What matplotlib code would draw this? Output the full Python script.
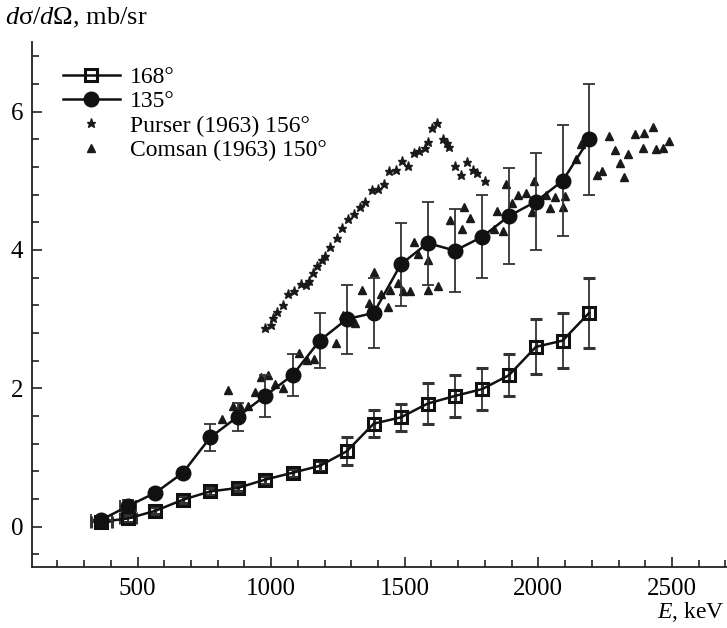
import numpy as np
import matplotlib
matplotlib.use("Agg")
import matplotlib.pyplot as plt
from matplotlib.lines import Line2D
from matplotlib.ticker import MultipleLocator

plt.rcParams['font.family'] = ['Liberation Serif', 'DejaVu Serif']
plt.rcParams['mathtext.fontset'] = 'custom'
plt.rcParams['mathtext.rm'] = 'Liberation Serif'
plt.rcParams['mathtext.it'] = 'Liberation Serif:italic'

# energies of the two measured series, keV
energy = [365, 465, 567, 670, 772, 875, 977, 1080, 1182, 1283, 1384,
          1485, 1586, 1688, 1790, 1890, 1991, 2091, 2190]

# 168 deg (open squares)
sq_val = [0.07, 0.12, 0.23, 0.39, 0.51, 0.56, 0.68, 0.78, 0.88, 1.09, 1.49,
          1.58, 1.78, 1.89, 1.99, 2.19, 2.60, 2.69, 3.09]
sq_err = [0.05, 0.05, 0.05, 0.05, 0.05, 0.05, 0.06, 0.06, 0.07, 0.2, 0.2,
          0.2, 0.3, 0.3, 0.3, 0.3, 0.4, 0.4, 0.5]

# 135 deg (filled circles)
ci_val = [0.10, 0.30, 0.49, 0.78, 1.29, 1.59, 1.89, 2.19, 2.69, 3.00, 3.09,
          3.79, 4.10, 3.99, 4.19, 4.49, 4.70, 5.00, 5.60]
ci_err = [0.06, 0.08, 0.06, 0.06, 0.2, 0.2, 0.3, 0.3, 0.4, 0.5, 0.5,
          0.6, 0.6, 0.6, 0.6, 0.7, 0.7, 0.8, 0.8]

x_err = [40, 30, 0, 0, 0, 0, 0, 0, 0, 0, 0, 0, 0, 0, 0, 0, 0, 0, 0]

# Purser (1963) 156 deg
purser_e = [977, 998, 1008, 1023, 1043, 1064, 1085, 1110, 1130, 1143, 1155,
            1173, 1189, 1201, 1220, 1245, 1266, 1289, 1310, 1333, 1352, 1376,
            1399, 1421, 1442, 1467, 1488, 1511, 1533, 1555, 1576, 1588, 1603,
            1622, 1642, 1657, 1667, 1688, 1710, 1734, 1755, 1772, 1800]
purser_v = [2.87, 2.91, 3.01, 3.11, 3.20, 3.37, 3.41, 3.51, 3.49, 3.55, 3.66,
            3.77, 3.86, 3.91, 4.04, 4.17, 4.32, 4.45, 4.52, 4.62, 4.69, 4.87,
            4.88, 4.95, 5.14, 5.16, 5.28, 5.21, 5.40, 5.43, 5.48, 5.56, 5.76,
            5.83, 5.61, 5.54, 5.49, 5.22, 5.08, 5.27, 5.15, 5.11, 5.00]

# Comsan (1963) 150 deg
comsan_e = [818, 837, 858, 885, 914, 938, 961, 990, 1014, 1045, 1103, 1133,
            1161, 1243, 1270, 1314, 1341, 1367, 1385, 1413, 1438, 1445, 1476,
            1494, 1519, 1534, 1549, 1588, 1586, 1625, 1669, 1713, 1722, 1746,
            1834, 1844, 1867, 1879, 1903, 1925, 1952, 1983, 1975, 2028, 2044,
            2062, 2100, 2092, 2140, 2158, 2218, 2240, 2264, 2288, 2305, 2321,
            2336, 2363, 2390, 2396, 2428, 2440, 2467, 2488]
comsan_v = [1.55, 1.97, 1.74, 1.74, 1.75, 1.94, 2.17, 2.19, 2.06, 2.01, 2.51,
            2.41, 2.42, 2.65, 3.06, 2.95, 3.42, 3.23, 3.68, 3.37, 3.18, 3.42,
            3.52, 3.41, 3.41, 4.12, 3.94, 3.85, 3.42, 3.48, 4.43, 4.30, 4.62,
            4.46, 4.30, 4.57, 4.27, 4.95, 4.68, 4.80, 4.82, 5.00, 4.55, 4.79,
            4.60, 4.77, 4.78, 4.62, 5.31, 5.53, 5.08, 5.14, 5.65, 5.45, 5.25,
            5.06, 5.39, 5.68, 5.47, 5.69, 5.78, 5.46, 5.48, 5.57]

fig = plt.figure(figsize=(7.27, 6.28), dpi=100)
ax = fig.add_axes([0.0436, 0.0976, 0.9564, 0.836])

ax.plot(purser_e, purser_v, ls='none', marker='*', ms=6.5, color='#1a1a1a', zorder=2)
ax.plot(comsan_e, comsan_v, ls='none', marker='^', ms=5.5, color='#1a1a1a', zorder=2)

ax.errorbar(energy, sq_val, yerr=sq_err, xerr=x_err, color='#111', lw=1.8,
            marker='s', ms=9, mfc='none', mew=2.2, ecolor='#333',
            elinewidth=1.3, capsize=4.5, capthick=1.3, zorder=3)
ax.errorbar(energy, ci_val, yerr=ci_err, xerr=x_err, color='#111', lw=1.8,
            marker='o', ms=10.5, ecolor='#333',
            elinewidth=1.3, capsize=4.5, capthick=1.3, zorder=4)

ax.set_xlim(104, 2706)
ax.set_ylim(-0.578, 7.01)
ax.xaxis.set_major_locator(MultipleLocator(500))
ax.xaxis.set_minor_locator(MultipleLocator(100))
ax.yaxis.set_major_locator(MultipleLocator(2))
ax.yaxis.set_minor_locator(MultipleLocator(0.4))
ax.tick_params(which='both', direction='in', labelsize=18, width=1.2, color='#222')
ax.tick_params(which='major', length=7)
ax.tick_params(which='minor', length=5)
ax.tick_params(axis='x', pad=8)
ax.tick_params(axis='y', pad=6)
for s in ['top', 'right']:
    ax.spines[s].set_visible(False)
for s in ['left', 'bottom']:
    ax.spines[s].set_linewidth(1.3)
    ax.spines[s].set_color('#222')

leg_handles = [
    Line2D([], [], color='#111', lw=1.8, marker='s', ms=9, mfc='none', mew=2.2),
    Line2D([], [], color='#111', lw=1.8, marker='o', ms=10.5),
    Line2D([], [], ls='none', marker='*', ms=6.5, color='#1a1a1a'),
    Line2D([], [], ls='none', marker='^', ms=5.5, color='#1a1a1a'),
]
leg_labels = ['168°', '135°', 'Purser (1963) 156°', 'Comsan (1963) 150°']
ax.legend(leg_handles, leg_labels,
          loc='upper left', bbox_to_anchor=(0.045, 0.953), frameon=False,
          fontsize=17, handlelength=2.4, handletextpad=0.45,
          labelspacing=0.12, borderpad=0, borderaxespad=0)

fig.text(0.007, 0.972, r'$d\mathrm{\sigma}/d\mathrm{\Omega}$, mb/sr',
         fontsize=19, ha='left', va='center')
fig.text(0.997, 0.025, r'$E$, keV', fontsize=17, ha='right', va='center')

fig.savefig('out.png', dpi=100)
